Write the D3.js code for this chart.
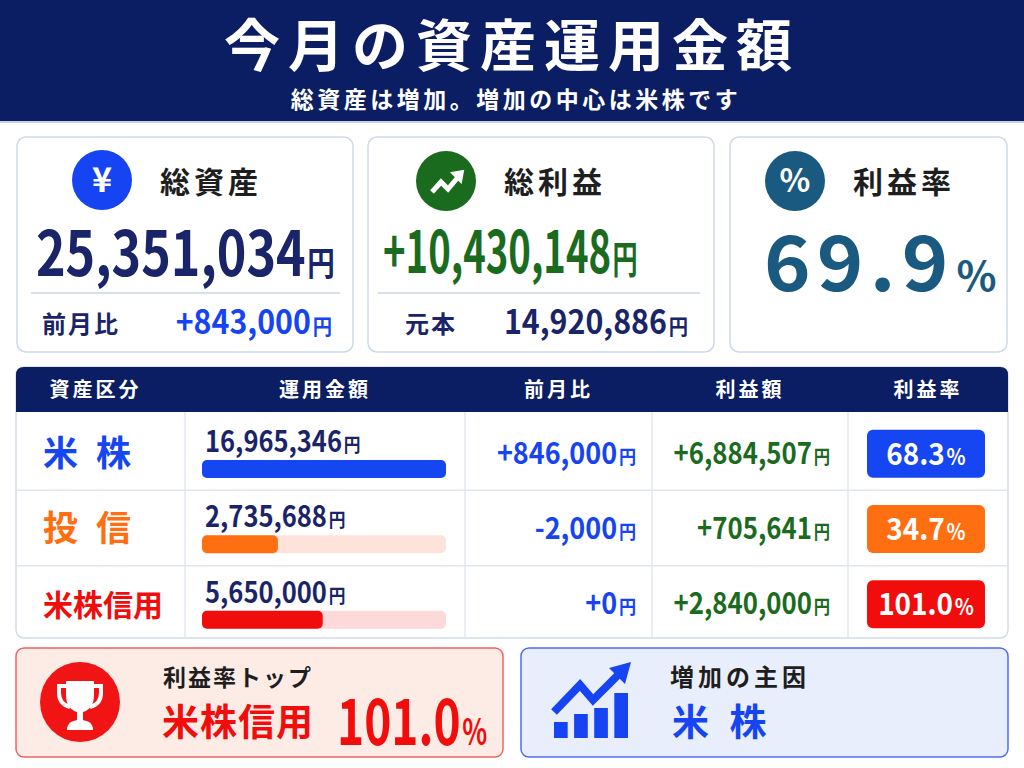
<!DOCTYPE html>
<html>
<head>
<meta charset="utf-8">
<script src="https://cdn.jsdelivr.net/npm/d3@7"></script>
<style>
  body { margin: 0; background: #fff; }
  text { font-family: "Noto Sans CJK JP", "Noto Sans", sans-serif; font-weight: 700; }
</style>
</head>
<body>
<div id="chart"></div>
<script>
// chart values
const titleText = '今月の資産運用金額'
const subtitleText = '総資産は増加。増加の中心は米株です'
const headers = ['資産区分', '運用金額', '前月比', '利益額', '利益率']
const assetNames = ['米 株', '投 信', '米株信用']
const amounts = [16965346, 2735688, 5650000]
const changes = [846000, -2000, 0]
const profits = [6884507, 705641, 2840000]
const rates = [68.3, 34.7, 101.0]
const summaryLabels = ['総資産', '総利益', '利益率']
const summaryValues = [25351034, 10430148, 69.9]
const summarySubLabels = ['前月比', '元本']
const summarySubValues = [843000, 14920886]
const highlightLabels = ['利益率トップ', '増加の主因']

// styles
const navy = '#0b1d63'
const textNavy = '#1a2468'
const blue = '#1744f2'
const green = '#1b6b1e'
const teal = '#1b5a80'
const assetColors = ['#1646f2', '#ff6f12', '#f20d0d']
const trackColors = ['#dfe6fd', '#fde3d9', '#fdd9d9']

const fmt = d3.format(',')
const sfmt = v => d3.format('+,')(v).replace('\u2212', '-')

const svg = d3.select('#chart').append('svg')
  .attr('width', 1024).attr('height', 768)

// number + small unit, optionally condensed horizontally
function money(g, x, y, str, size, unit, unitSize, color, anchor, sx) {
  const t = g.append('g')
    .attr('transform', `translate(${x},${y}) scale(${sx || 1},1)`)
    .append('text')
    .attr('text-anchor', anchor || 'start')
    .attr('fill', color)
  t.append('tspan').attr('font-size', size).text(str)
  t.append('tspan').attr('font-size', unitSize).attr('dx', 2).text(unit)
  return t
}

// ---- header
svg.append('rect').attr('x', 0).attr('y', 0).attr('width', 1024).attr('height', 121).attr('fill', navy)
svg.append('rect').attr('x', 0).attr('y', 121).attr('width', 1024).attr('height', 2).attr('fill', '#c9d0e6')
svg.append('text')
  .attr('x', 512).attr('y', 66)
  .attr('text-anchor', 'middle')
  .attr('fill', '#fff')
  .attr('font-size', 56)
  .attr('font-weight', 900)
  .attr('letter-spacing', 8)
  .text(titleText)
svg.append('text')
  .attr('x', 516).attr('y', 108)
  .attr('text-anchor', 'middle')
  .attr('fill', '#fff')
  .attr('font-size', 23)
  .attr('letter-spacing', 3.5)
  .text(subtitleText)

// ---- summary cards
const cards = [
  {x: 17, w: 336, icon: [102, 180], color: blue},
  {x: 368, w: 346, icon: [446, 181], color: green},
  {x: 730, w: 277, icon: [795, 181], color: teal}
]
cards.forEach((c, i) => {
  const g = svg.append('g')
  g.append('rect')
    .attr('x', c.x).attr('y', 137).attr('width', c.w).attr('height', 215)
    .attr('rx', 9).attr('fill', '#fff').attr('stroke', '#cfd8e8').attr('stroke-width', 1.5)
  g.append('circle').attr('cx', c.icon[0]).attr('cy', c.icon[1]).attr('r', 30).attr('fill', c.color)
  g.append('text')
    .attr('x', c.icon[0] + 58).attr('y', 193)
    .attr('fill', '#1e1e1e')
    .attr('font-size', 30)
    .attr('letter-spacing', 4)
    .text(summaryLabels[i])
})
// icons
svg.append('text').attr('x', 102).attr('y', 192).attr('text-anchor', 'middle')
  .attr('fill', '#fff').attr('font-size', 34).text('¥')
svg.append('path')
  .attr('d', 'M432,192 L441,182 L448,189 L459,176')
  .attr('fill', 'none').attr('stroke', '#fff').attr('stroke-width', 5)
svg.append('path')
  .attr('d', 'M463,171 L452,173 L461,182 Z')
  .attr('fill', '#fff').attr('stroke', '#fff').attr('stroke-width', 2)
svg.append('text').attr('x', 795).attr('y', 192).attr('text-anchor', 'middle')
  .attr('fill', '#fff').attr('font-size', 32).text('%')

// card values
money(svg, 36, 276, fmt(summaryValues[0]), 62, '円', 34, textNavy, 'start', 0.81)
money(svg, 383, 273, sfmt(summaryValues[1]), 58, '円', 38, green, 'start', 0.66)
money(svg, 764, 291, summaryValues[2].toFixed(1), 76, '%', 40, teal, 'start', 1.04)
  .attr('letter-spacing', 6)

svg.append('line').attr('x1', 31).attr('x2', 340).attr('y1', 293).attr('y2', 293)
  .attr('stroke', '#cbd6e6').attr('stroke-width', 1.5)
svg.append('line').attr('x1', 378).attr('x2', 700).attr('y1', 293).attr('y2', 293)
  .attr('stroke', '#cbd6e6').attr('stroke-width', 1.5)

svg.append('text').attr('x', 42).attr('y', 333).attr('fill', textNavy)
  .attr('font-size', 24).attr('letter-spacing', 2).text(summarySubLabels[0])
money(svg, 332, 334, sfmt(summarySubValues[0]), 33, '円', 21, blue, 'end', 0.92)
svg.append('text').attr('x', 405).attr('y', 333).attr('fill', textNavy)
  .attr('font-size', 24).attr('letter-spacing', 2).text(summarySubLabels[1])
money(svg, 688, 334, fmt(summarySubValues[1]), 33, '円', 21, textNavy, 'end', 0.92)

// ---- table
const colEdges = [16, 185, 465, 652, 848, 1008]
const tableTop = 367, headH = 45, tableBottom = 638
const y = d3.scaleBand().domain(d3.range(assetNames.length)).range([tableTop + headH, tableBottom])
const xBar = d3.scalePow().exponent(0.64).domain([0, d3.max(amounts)]).range([0, 244])

const tbl = svg.append('g')
tbl.append('rect')
  .attr('x', 16).attr('y', tableTop).attr('width', 992).attr('height', tableBottom - tableTop)
  .attr('rx', 8).attr('fill', '#fff').attr('stroke', '#d3dbe9').attr('stroke-width', 1.5)
tbl.append('path')
  .attr('d', `M16,${tableTop + headH} V${tableTop + 8} Q16,${tableTop} 24,${tableTop} H1000 Q1008,${tableTop} 1008,${tableTop + 8} V${tableTop + headH} Z`)
  .attr('fill', navy)
tbl.selectAll('.hd').data(headers).join('text')
  .attr('x', (d, i) => (colEdges[i] + colEdges[i + 1]) / 2 - (i === 0 ? 5 : 0))
  .attr('y', tableTop + 30)
  .attr('text-anchor', 'middle')
  .attr('fill', '#fff')
  .attr('font-size', 20)
  .attr('letter-spacing', 3)
  .text(d => d)

// grid lines
tbl.selectAll('.vl').data(colEdges.slice(1, -1)).join('line')
  .attr('x1', d => d).attr('x2', d => d)
  .attr('y1', tableTop + headH).attr('y2', tableBottom)
  .attr('stroke', '#e2e7f0').attr('stroke-width', 1.5)
tbl.selectAll('.hl').data(d3.range(1, assetNames.length)).join('line')
  .attr('x1', 17).attr('x2', 1007)
  .attr('y1', d => y(d) + 3).attr('y2', d => y(d) + 3)
  .attr('stroke', '#e2e7f0').attr('stroke-width', 1.5)

assetNames.forEach((name, i) => {
  const top = y(i) + 3
  const mid = top + y.bandwidth() / 2
  const row = tbl.append('g')
  row.append('text')
    .attr('x', 43).attr('y', mid + 13)
    .attr('fill', assetColors[i])
    .attr('font-size', name.length > 3 ? 30 : 35)
    .attr('letter-spacing', name.length > 3 ? 0 : 5)
    .text(name)
  // amount + bar
  money(row, 205, top + 37, fmt(amounts[i]), 29, '円', 19, textNavy, 'start', 0.88)
  row.append('rect')
    .attr('x', 202).attr('y', top + 45).attr('width', xBar.range()[1]).attr('height', 18)
    .attr('rx', 5).attr('fill', trackColors[i])
  row.append('rect')
    .attr('x', 202).attr('y', top + 45).attr('width', xBar(amounts[i])).attr('height', 18)
    .attr('rx', 5).attr('fill', assetColors[i])
  // change
  money(row, 636, mid + 11, sfmt(changes[i]), 30, '円', 19, blue, 'end', 0.9)
  // profit
  money(row, 830, mid + 11, sfmt(profits[i]), 30, '円', 19, green, 'end', 0.86)
  // rate badge
  row.append('rect')
    .attr('x', 867).attr('y', mid - 23).attr('width', 118).attr('height', 48)
    .attr('rx', 6).attr('fill', assetColors[i])
  money(row, 926, mid + 12, rates[i].toFixed(1), 31, '%', 22, '#fff', 'middle', 0.9)
})

// ---- highlight cards
const topIdx = d3.maxIndex(rates)
const mainIdx = d3.maxIndex(changes)

const ca = svg.append('g')
ca.append('rect')
  .attr('x', 16).attr('y', 648).attr('width', 487).attr('height', 109)
  .attr('rx', 8).attr('fill', '#fdece6').attr('stroke', '#f26262').attr('stroke-width', 1.5)
ca.append('circle').attr('cx', 80).attr('cy', 702).attr('r', 40).attr('fill', '#f01414')
const tr = ca.append('g').attr('transform', 'translate(80,702)')
tr.append('path').attr('d', 'M-14,-21 H14 V-7 Q14,8 0,11 Q-14,8 -14,-7 Z').attr('fill', '#fff')
tr.append('path').attr('d', 'M-13,-16 H-21 V-9 Q-21,2 -10,5 M13,-16 H21 V-9 Q21,2 10,5')
  .attr('fill', 'none').attr('stroke', '#fff').attr('stroke-width', 4)
tr.append('rect').attr('x', -3).attr('y', 9).attr('width', 6).attr('height', 10).attr('fill', '#fff')
tr.append('path').attr('d', 'M-13,28 Q-13,18 0,18 Q13,18 13,28 Z').attr('fill', '#fff')

ca.append('text').attr('x', 163).attr('y', 686).attr('fill', '#1e1e1e')
  .attr('font-size', 23).attr('letter-spacing', 2).text(highlightLabels[0])
ca.append('text').attr('x', 162).attr('y', 736).attr('fill', assetColors[topIdx])
  .attr('font-size', 37).attr('letter-spacing', 1).text(assetNames[topIdx])
money(ca, 337, 745, rates[topIdx].toFixed(1), 64, '%', 36, assetColors[topIdx], 'start', 0.72)

const cb = svg.append('g')
cb.append('rect')
  .attr('x', 521).attr('y', 648).attr('width', 487).attr('height', 109)
  .attr('rx', 8).attr('fill', '#e9eefc').attr('stroke', '#4f6cf2').attr('stroke-width', 1.5)
const iconBars = [16, 24, 30, 45]
const ix = d3.scaleBand().domain(d3.range(iconBars.length)).range([554, 628]).paddingInner(0.32)
cb.selectAll('.ib').data(iconBars).join('rect')
  .attr('x', (d, i) => ix(i)).attr('y', d => 738 - d)
  .attr('width', ix.bandwidth()).attr('height', d => d)
  .attr('fill', blue)
cb.append('path').attr('d', 'M554,712 L580,685 L593,700 L618,675')
  .attr('fill', 'none').attr('stroke', blue).attr('stroke-width', 8)
cb.append('path').attr('d', 'M631,662 L609,668 L625,684 Z').attr('fill', blue)

cb.append('text').attr('x', 670).attr('y', 686).attr('fill', '#1e1e1e')
  .attr('font-size', 24).attr('letter-spacing', 4).text(highlightLabels[1])
cb.append('text').attr('x', 672).attr('y', 736).attr('fill', blue)
  .attr('font-size', 37).attr('letter-spacing', 6).text(assetNames[mainIdx])
</script>
</body>
</html>
